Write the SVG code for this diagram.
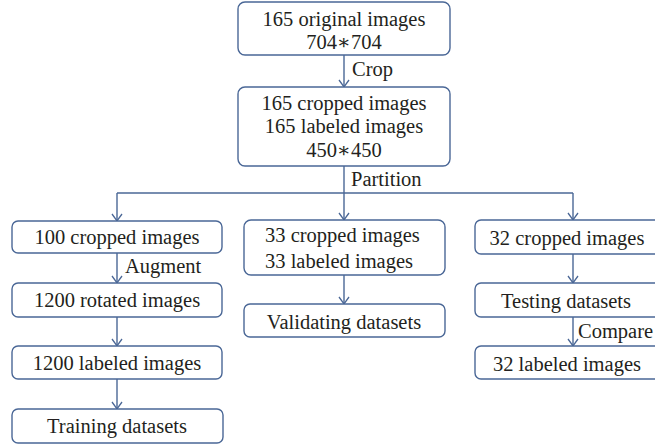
<svg xmlns="http://www.w3.org/2000/svg" width="655" height="445" viewBox="0 0 655 445">
<defs>
<path id="ah" d="M-5,-7 L0,0 L5,-7" fill="none" stroke="#4a6796" stroke-width="1.3"/>
</defs>
<style>
.b{fill:#fff;stroke:#4a6796;stroke-width:1.4}
.t{font-family:'Liberation Serif','DejaVu Serif',serif;font-size:20.5px;fill:#231f20}
.c{text-anchor:middle}
.l{stroke:#4a6796;stroke-width:1.4;fill:none}
</style>
<g id="connectors">
<path class="l" d="M344,55 V87"/>
<path class="l" d="M344,166 V193"/>
<path class="l" d="M117,193 H573"/>
<path class="l" d="M117,193 V221"/>
<path class="l" d="M344,193 V220"/>
<path class="l" d="M573,193 V220"/>
<path class="l" d="M117,253 V283"/>
<path class="l" d="M117,317 V346"/>
<path class="l" d="M117,379 V409"/>
<path class="l" d="M344,275 V304"/>
<path class="l" d="M573,254 V283"/>
<path class="l" d="M573,317 V346"/>
<use href="#ah" x="344" y="87"/>
<use href="#ah" x="117" y="221"/>
<use href="#ah" x="344" y="220"/>
<use href="#ah" x="573" y="220"/>
<use href="#ah" x="117" y="283"/>
<use href="#ah" x="117" y="346"/>
<use href="#ah" x="117" y="409"/>
<use href="#ah" x="344" y="304"/>
<use href="#ah" x="573" y="283"/>
<use href="#ah" x="573" y="346"/>
<text class="t" x="352" y="76">Crop</text>
<text class="t" x="351" y="186">Partition</text>
<text class="t" x="125" y="273">Augment</text>
<text class="t" x="578" y="338">Compare</text>
</g>
<g id="n1"><rect class="b" x="238" y="2" width="212" height="53" rx="7"/><text class="t c" x="344" y="26">165 original images</text><text class="t c" x="344" y="49">704∗704</text></g>
<g id="n2"><rect class="b" x="238" y="87" width="212" height="79" rx="7"/><text class="t c" x="344" y="110">165 cropped images</text><text class="t c" x="344" y="133">165 labeled images</text><text class="t c" x="344" y="157">450∗450</text></g>
<g id="n3"><rect class="b" x="12" y="221" width="210" height="32" rx="6"/><text class="t c" x="117" y="244">100 cropped images</text></g>
<g id="n4"><rect class="b" x="12" y="283" width="210" height="34" rx="6"/><text class="t c" x="117" y="307">1200 rotated images</text></g>
<g id="n5"><rect class="b" x="12" y="346" width="210" height="33" rx="6"/><text class="t c" x="117" y="370">1200 labeled images</text></g>
<g id="n6"><rect class="b" x="12" y="409" width="211" height="34" rx="6"/><text class="t c" x="117" y="433">Training datasets</text></g>
<g id="n7"><rect class="b" x="244" y="220" width="201" height="55" rx="7"/><text class="t" x="265" y="242">33 cropped images</text><text class="t" x="265" y="268">33 labeled images</text></g>
<g id="n8"><rect class="b" x="244" y="304" width="201" height="33" rx="6"/><text class="t c" x="344" y="329">Validating datasets</text></g>
<g id="n9"><rect class="b" x="475" y="220" width="200" height="34" rx="6"/><text class="t c" x="567" y="245">32 cropped images</text></g>
<g id="n10"><rect class="b" x="475" y="283" width="200" height="34" rx="6"/><text class="t c" x="566" y="308">Testing datasets</text></g>
<g id="n11"><rect class="b" x="475" y="346" width="200" height="33" rx="6"/><text class="t c" x="567" y="371">32 labeled images</text></g>
</svg>
